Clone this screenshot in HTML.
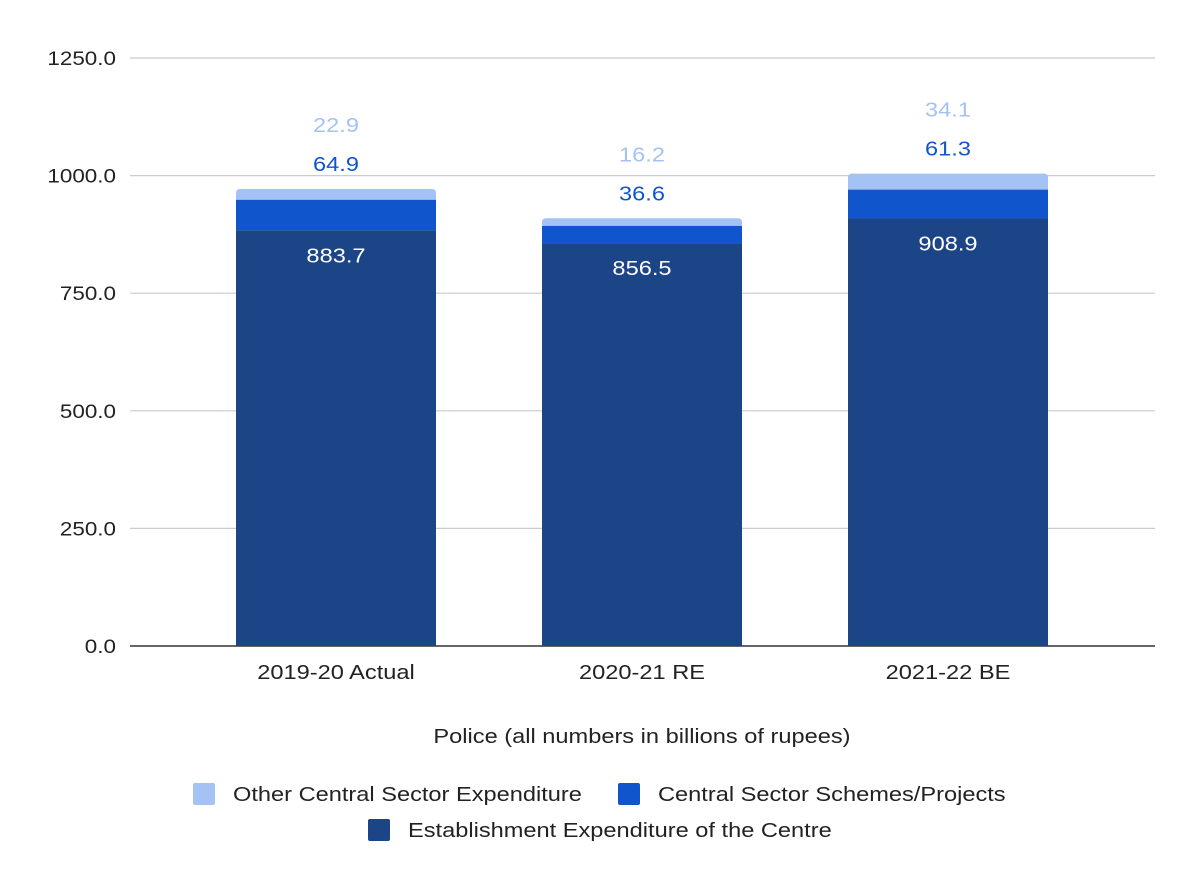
<!DOCTYPE html>
<html><head><meta charset="utf-8"><style>
body{margin:0;background:#fff}
svg{display:block;font-family:"Liberation Sans",sans-serif}
</style></head><body>
<svg id="chart" width="1200" height="888">
<g id="grid"></g><g id="bars"></g><g id="labels"></g>
<text x="642" y="743" font-size="20" text-anchor="middle" fill="#222">Police (all numbers in billions of rupees)</text>
<g>
<g><rect x="193" y="783" width="22" height="22" rx="2" fill="#a4c2f4"/><text x="233" y="801" font-size="20" fill="#222">Other Central Sector Expenditure</text></g>
<g><rect x="618" y="783" width="22" height="22" rx="2" fill="#1155cc"/><text x="658" y="801" font-size="20" fill="#222">Central Sector Schemes/Projects</text></g>
<g><rect x="368" y="819" width="22" height="22" rx="2" fill="#1c4587"/><text x="408" y="837" font-size="20" fill="#222">Establishment Expenditure of the Centre</text></g>
</g>
</svg>
<script>
const categories = ["2019-20 Actual","2020-21 RE","2021-22 BE"];
const establishment = [883.7,856.5,908.9];
const schemes = [64.9,36.6,61.3];
const other = [22.9,16.2,34.1];
const ticks = [0,250,500,750,1000,1250];
const NS="http://www.w3.org/2000/svg";
const y = v => 646 - v*(588/1250);
const xc = i => 336 + i*306;
const grid=document.getElementById('grid'),bars=document.getElementById('bars'),labels=document.getElementById('labels');
function mk(tag,attrs,parent,text){const e=document.createElementNS(NS,tag);for(const k in attrs)e.setAttribute(k,attrs[k]);if(text!==undefined)e.textContent=text;parent.appendChild(e);return e;}
ticks.forEach(t=>{
  const l=mk('line',{x1:130,x2:1155,y1:y(t),y2:y(t),stroke:t===0?'#333':'#ccc','stroke-width':t===0?1.5:1.2},grid);
  
  
  const tx=mk('text',{x:116,y:y(t)+7,'font-size':19,'text-anchor':'end',fill:'#222'},grid,t.toFixed(1));
  
  
});
categories.forEach((c,i)=>{
  const x0=xc(i)-100,w=200;
  const t1=establishment[i],t2=t1+schemes[i],t3=t2+other[i];
  const r3=mk('path',{d:`M${x0} ${y(t2)} V${y(t3)+4} q0 -4 4 -4 H${x0+w-4} q4 0 4 4 V${y(t2)} Z`,fill:'#a4c2f4'},bars);
  
  
  const r2=mk('rect',{x:x0,y:y(t2),width:w,height:y(t1)-y(t2),fill:'#1155cc'},bars);
  
  
  const r1=mk('rect',{x:x0,y:y(t1),width:w,height:y(0)-y(t1),fill:'#1c4587'},bars);
  
  
  const a=mk('text',{x:xc(i),y:y(t1)+32,'font-size':20,'text-anchor':'middle',fill:'#fff'},labels,establishment[i].toFixed(1));
  
  
  const b=mk('text',{x:xc(i),y:y(t3)-18,'font-size':20,'text-anchor':'middle',fill:'#1155cc'},labels,schemes[i].toFixed(1));
  
  
  const d=mk('text',{x:xc(i),y:y(t3)-57,'font-size':20,'text-anchor':'middle',fill:'#a4c2f4'},labels,other[i].toFixed(1));
  
  
  const cl=mk('text',{x:xc(i),y:679,'font-size':20,'text-anchor':'middle',fill:'#222'},labels,c);
  
  
});
// widen text to match reference font metrics
document.querySelectorAll('#chart text').forEach(t=>{
  const w=t.getComputedTextLength();
  t.setAttribute('textLength',(w*1.18).toFixed(1));
  t.setAttribute('lengthAdjust','spacingAndGlyphs');
});
</script>
</body></html>
